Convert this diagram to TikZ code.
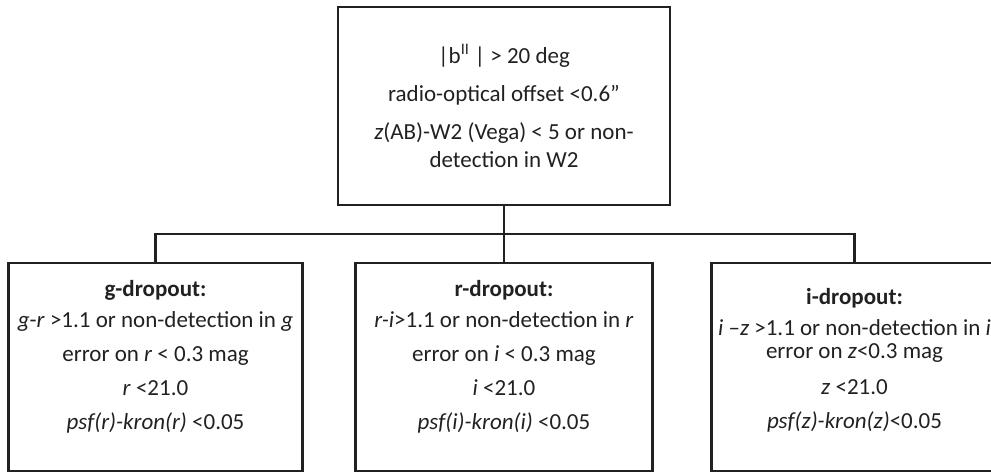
\documentclass[tikz,border=0pt]{standalone}
\usepackage{fontspec}
\setmainfont{Carlito}
\usetikzlibrary{positioning,calc}
\definecolor{lineclr}{rgb}{0.13, 0.13, 0.13}
\tikzset{ %
  ,every node/.style={font=\fontsize{23}{28}\selectfont, text=lineclr}
  ,cut/.style={draw=lineclr, line width=2.6pt, outer sep=0, inner sep=0, minimum width=332pt, minimum height=198pt, align=center}
  ,drop/.style={draw=lineclr, line width=2.6pt, outer sep=0, inner sep=0, minimum height=208pt}
  ,crit/.style={inner sep=0, align=center}
  ,bus/.style={draw=lineclr, line width=2.6pt}
}

\begin{document}
\begin{tikzpicture}[x=1pt, y=-1pt]
      \useasboundingbox (0,0) rectangle (991,474);
      \draw
      node[cut] (sel) at (504,106) {|b\textsuperscript{II} | > 20 deg\\[10pt]
        radio-optical offset <0.6''\\[10pt]
        \textit{z}(AB)-W2 (Vega) < 5 or non-\\detection in W2}
      node[drop, minimum width=297pt, below=58pt of sel] (rbox) {}
      node[drop, minimum width=294pt, left=53pt of rbox] (gbox) {}
      node[drop, minimum width=286pt, right=59pt of rbox] (ibox) {};
      % criteria of the three dropouts
      \draw
      node[crit] (gcrit) at ([yshift=10pt]gbox.center) {\textbf{g-dropout:}\\[3pt]
        \textit{g}-\textit{r} >1.1 or non-detection in \textit{g}\\[6pt]
        error on \textit{r} < 0.3 mag\\[6pt]
        \textit{r} <21.0\\[6pt]
        \textit{psf(r)-kron(r)} <0.05}
      node[crit] (rcrit) at ([yshift=10pt]rbox.center) {\textbf{r-dropout:}\\[3pt]
        \textit{r-i}>1.1 or non-detection in \textit{r}\\[6pt]
        error on \textit{i} < 0.3 mag\\[6pt]
        \textit{i} <21.0\\[6pt]
        \textit{psf(i)-kron(i)} <0.05}
      node[crit] (icrit) at ([yshift=7pt]ibox.center) {\textbf{i-dropout:}\\[3pt]
        \textit{i} –\textit{z} >1.1 or non-detection in \textit{i}\\[-5pt]
        error on \textit{z}<0.3 mag\\[8pt]
        \textit{z} <21.0\\[6pt]
        \textit{psf(z)-kron(z)}<0.05};
      \coordinate (bus) at ($(sel.south)!.5!(rbox.north)$);
      \draw[bus] (sel.south) -- (rbox.north);
      \draw[bus] (gbox.north) |- (bus) -| (ibox.north);
    \end{tikzpicture}
\end{document}
